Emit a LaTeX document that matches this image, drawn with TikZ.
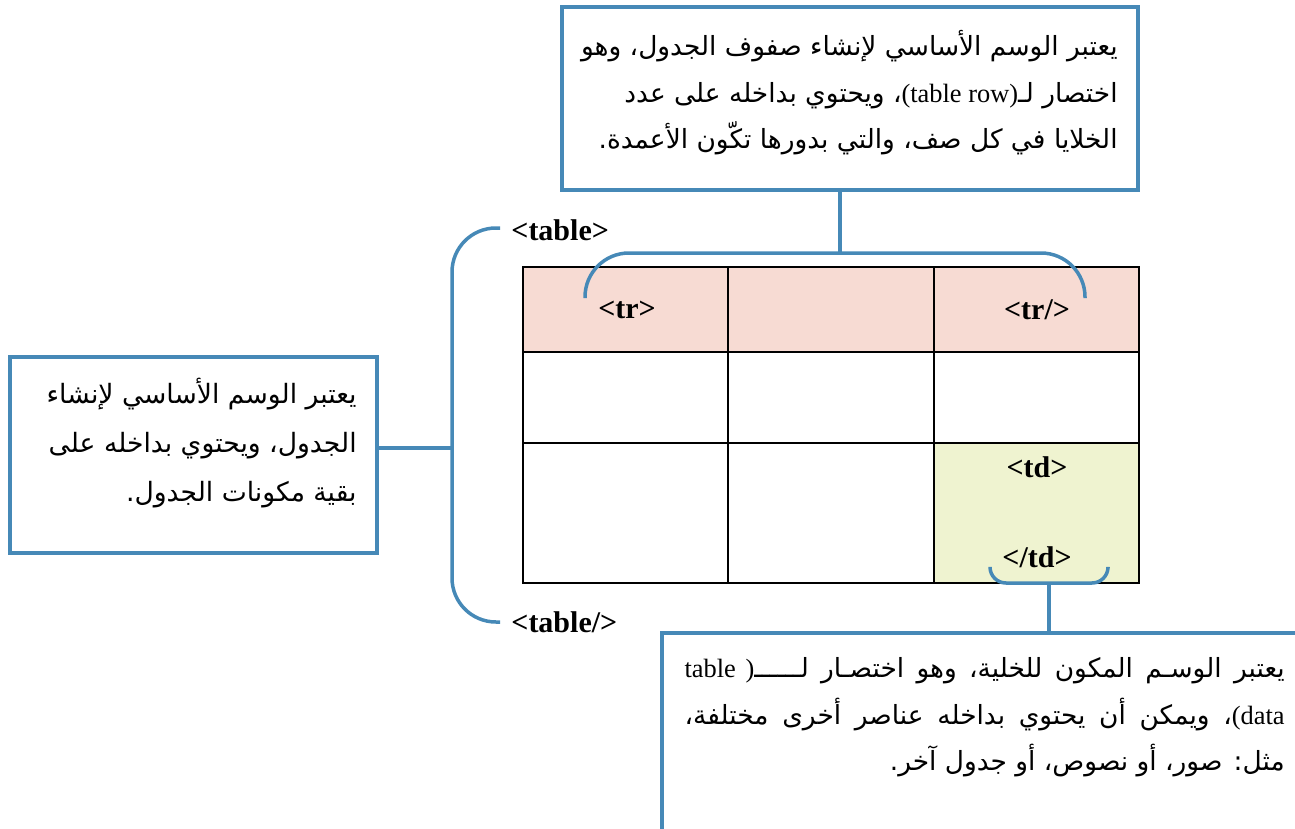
\documentclass[tikz,border=0pt]{standalone}
\usepackage{fontspec}
\setmainfont{Liberation Serif}
\newfontfamily\ar[Script=Arabic]{DejaVu Sans}
\TeXXeTstate=1
\definecolor{bl}{RGB}{70,137,183}
\definecolor{rowpink}{RGB}{247,219,211}
\definecolor{cellgreen}{RGB}{239,243,208}
\tikzset{
  box/.style={draw=bl, line width=2pt, fill=white, inner sep=0pt},
  brace/.style={draw=bl, line width=1.75pt},
  tag/.style={font=\bfseries\fontsize{15}{18}\selectfont, inner sep=0pt},
  artext/.style={inner sep=0pt, align=right, font=\ar\fontsize{13.2}{23.3}\selectfont},
  grid/.style={draw=black, line width=1pt}
}
\begin{document}
\begin{tikzpicture}[x=0.5pt,y=-0.5pt]
\clip (0,0) rectangle (1295,829);
\fill[white] (0,0) rectangle (1295,829);
% table
\fill[rowpink] (523,267) rectangle (1139,352);
\fill[cellgreen] (934,443) rectangle (1139,583);
\draw[grid] (523,267) rectangle (1139,583);
\draw[grid] (523,352) -- (1139,352) (523,443) -- (1139,443);
\draw[grid] (728,267) -- (728,583) (934,267) -- (934,583);
% tags
\node[tag] (tr1) at (627,310) {<tr>};
\node[tag] (tr2) at (1037,310) {<tr/>};
\node[tag] (td1) at (1037,467) {<td>};
\node[tag] (td2) at (1037,557) {</td>};
\node[tag, anchor=west] (tb1) at (511,230) {<table>};
\node[tag, anchor=west] (tb2) at (511,622) {<table/>};
% boxes
\node[box, minimum width=288pt, minimum height=91.5pt] (topbox) at (850,98.5) {};
\node[box, minimum width=183.5pt, minimum height=98pt] (leftbox) at (193.5,455) {};
\node[box, minimum width=324pt, minimum height=100pt] (botbox) at (986,733) {};
% texts
\node[artext, anchor=north east] (toptext) at (1118,30) {%
\beginR يعتبر الوسم الأساسي لإنشاء صفوف الجدول، وهو\endR\\
\beginR اختصار لـ\beginL{\rmfamily (table row)}\endL، ويحتوي بداخله على عدد\endR\\
\beginR الخلايا في كل صف، والتي بدورها تكّون الأعمدة.\endR};
\node[artext, anchor=north east, font=\ar\fontsize{13.3}{24.5}\selectfont] (lefttext) at (357,378) {%
\beginR يعتبر الوسم الأساسي لإنشاء\endR\\
\beginR الجدول، ويحتوي بداخله على\endR\\
\beginR بقية مكونات الجدول.\endR};
\node[artext, anchor=north east] (bottext) at (1285,657) {%
\hbox to 300pt{\beginR يعتبر الوسـم المكون للخلية، وهو اختصـار لــــــ\beginL{\rmfamily table )}\endL\endR}\\
\hbox to 300pt{\beginR\beginL{\rmfamily (data}\endL، ويمكن أن يحتوي بداخله عناصر أخرى مختلفة،\endR}\\
\beginR مثل: صور، أو نصوص، أو جدول آخر.\endR};
% connectors
\coordinate (tbM) at (840,253);
\draw[brace, rounded corners=22pt] (585,298) |- (tbM) -| (1085,298);
\draw[brace] (tbM) -- (tbM |- topbox.south);
\coordinate (lbT) at (500,228);
\coordinate (lbB) at (500,622);
\coordinate (lbM) at (452,448);
\draw[brace, rounded corners=22pt] (lbT) -| (lbM) |- (lbB);
\draw[brace] (lbM) -- (lbM -| leftbox.east);
\coordinate (bbM) at (1049,583);
\draw[brace, rounded corners=8pt] (990,568) |- (bbM) -| (1108,568);
\draw[brace] (bbM) -- (bbM |- botbox.north);
\end{tikzpicture}
\end{document}
